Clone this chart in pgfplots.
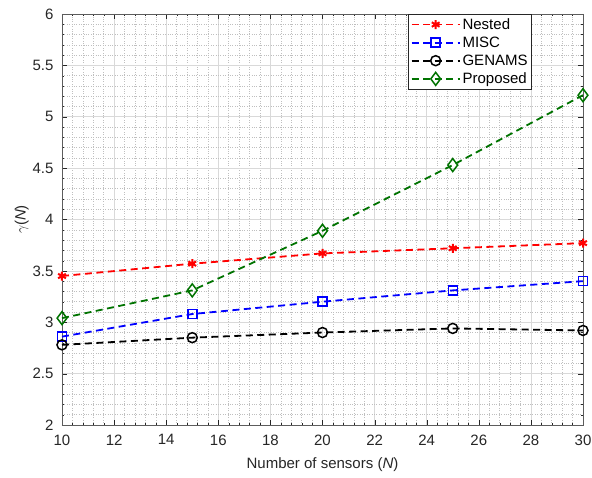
\documentclass[border=0pt]{standalone}
\usepackage{pgfplots}
\pgfplotsset{compat=1.18}
\usepackage{fontspec}
\setmainfont{Liberation Sans}
\definecolor{axgray}{rgb}{0.15,0.15,0.15}
\definecolor{mgreen}{rgb}{0,0.45,0}
\tikzset{dl/.style={line width=1.8pt, dash pattern=on 7pt off 4.5pt}}
\begin{document}
\begin{tikzpicture}
\begin{axis}[
  name=ax,
  scale only axis,
  width=521pt, height=411pt,
  xmin=10, xmax=30, ymin=2, ymax=6,
  xtick={10,12,...,30},
  ytick={2,2.5,...,6},
  minor tick num=4,
  grid=both,
  major grid style={gray!30, line width=0.6pt},
  minor grid style={gray!50, dotted, line width=0.5pt},
  axis line style={axgray!75, line width=0.7pt},
  tick style={axgray},
  ticklabel style={font=\fontsize{15}{17}\selectfont, text=axgray},
  xticklabel style={yshift=-6pt},
  yticklabel style={xshift=-5pt, /pgf/number format/fixed},
  /pgf/number format/assume math mode=true,
  xlabel={Number of sensors (\textit{N})},
  ylabel={$\gamma$(\textit{N})},
  label style={font=\fontsize{15}{17}\selectfont, text=axgray},
  xlabel style={yshift=-6pt},
  ylabel style={yshift=-3pt},
  tick align=inside,
  major tick length=5pt,
  minor tick length=2.5pt,
  legend style={at={(0.902,1)}, anchor=north east, font=\fontsize{15}{17}\selectfont, draw=axgray, line width=0.7pt, row sep=2pt, inner sep=2pt},
  legend cell align=left,
  legend image code/.code={\draw[mark repeat=2, mark phase=2] plot coordinates {(0pt,0pt) (24pt,0pt) (48pt,0pt)};},
]
\addplot[red, dl, mark=asterisk, mark size=4.5pt, mark options={solid, line width=2pt}] coordinates {(10,3.45) (15,3.57) (20,3.67) (25,3.72) (30,3.77)};
\addlegendentry{Nested}
\addplot[blue, dl, mark=square, mark size=4.5pt, mark options={solid, line width=1.5pt}] coordinates {(10,2.86) (15,3.08) (20,3.20) (25,3.31) (30,3.40)};
\addlegendentry{MISC}
\addplot[black, dl, mark=o, mark size=5pt, mark options={solid, line width=1.5pt}] coordinates {(10,2.78) (15,2.85) (20,2.90) (25,2.94) (30,2.92)};
\addlegendentry{GENAMS}
\addplot[mgreen, dl, mark=diamond, mark size=6.5pt, mark options={solid, line width=1.5pt}] coordinates {(10,3.04) (15,3.31) (20,3.89) (25,4.53) (30,5.21)};
\addlegendentry{Proposed}
\end{axis}
\pgfresetboundingbox
\path ([shift={(-62pt,-52pt)}]ax.south west) rectangle ([shift={(9pt,14pt)}]ax.north east);
\end{tikzpicture}
\end{document}
